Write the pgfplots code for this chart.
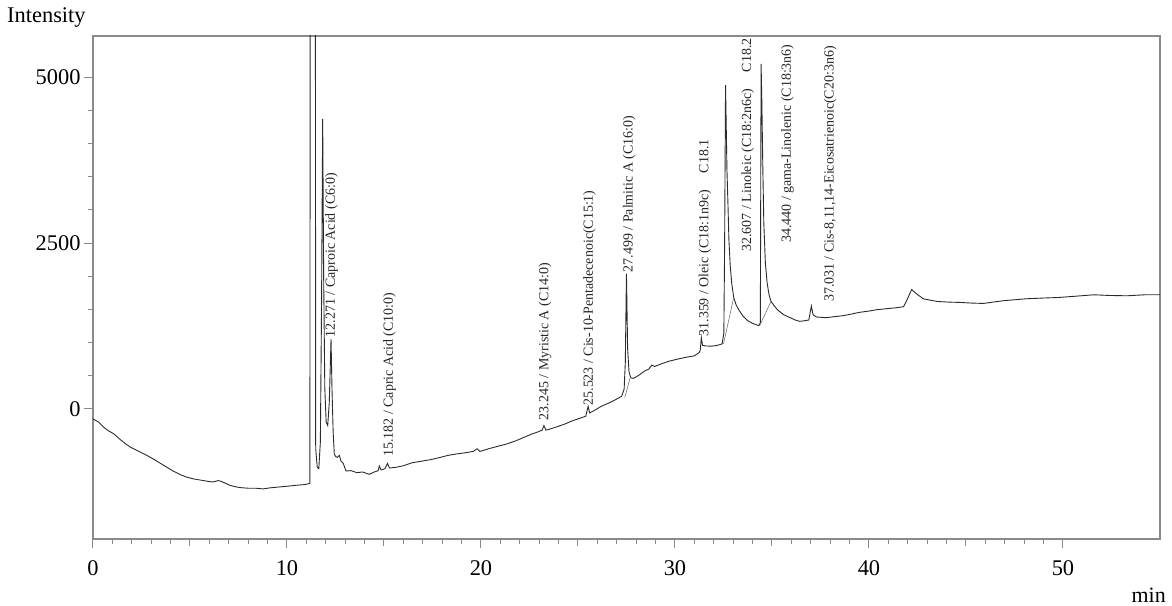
\documentclass[border=0pt]{standalone}
\usepackage{fontspec}
\setmainfont{Liberation Serif}
\usepackage{pgfplots}
\pgfplotsset{compat=1.18}
\definecolor{axgray}{HTML}{8A8A8A}
\definecolor{trace}{HTML}{2B2B2B}
\tikzset{lbl/.style={rotate=90, anchor=west, inner sep=0pt, font=\fontsize{14}{16}\selectfont, text=black!85}}
\begin{document}
\begin{tikzpicture}
\path[use as bounding box] (-93bp,-67bp) rectangle (1079bp,539bp);
\begin{axis}[
  scale only axis, width=1067bp, height=503bp,
  xmin=0, xmax=55, ymin=-1960, ymax=5620,
  axis line style={axgray, line width=1.2bp},
  tick style={axgray, line width=1bp},
  tick align=outside, tick pos=left,
  xtick={0,10,...,50}, minor x tick num=9,
  ytick={0,2500,5000}, minor y tick num=4,
  major tick length=9bp, minor tick length=5bp,
  extra x ticks={5,15,25,35,45},
  extra x tick style={major tick length=7bp, xticklabel={}},
  ticklabel style={font=\fontsize{22.5}{26}\selectfont, black},
  xticklabel style={yshift=-9bp},
  /pgf/number format/assume math mode=true,
  /pgf/number format/1000 sep={},
  clip mode=individual,
]
\addplot[trace, line width=0.9bp] table {
0 -150
0.3 -200
0.55 -275
0.8 -330
1.07 -375
1.4 -460
1.7 -530
1.92 -575
2.3 -630
2.78 -700
3.2 -770
3.64 -850
4.1 -930
4.5 -990
4.85 -1030
5.19 -1055
5.6 -1075
6.0 -1095
6.2 -1100
6.45 -1080
6.6 -1090
7.05 -1150
7.3 -1170
7.57 -1185
8.0 -1195
8.4 -1195
8.77 -1205
9.1 -1190
9.63 -1175
10.0 -1165
10.5 -1150
10.9 -1140
11.15 -1125
11.18 -1120
11.195 5800
11.33 9000
11.465 5800
11.48 -600
11.56 -880
11.64 -900
11.72 -500
11.78 1500
11.84 4370
11.89 2000
11.95 300
12.02 -200
12.1 -250
12.18 100
12.27 1050
12.32 300
12.38 -350
12.44 -685
12.52 -720
12.6 -730
12.7 -700
12.78 -785
12.9 -820
13.04 -935
13.3 -930
13.6 -960
13.9 -950
14.24 -985
14.5 -950
14.7 -930
14.76 -860
14.85 -920
15.05 -900
15.18 -820
15.28 -890
15.6 -880
15.95 -860
16.47 -810
16.9 -790
17.47 -760
17.9 -730
18.3 -700
18.7 -680
19.2 -660
19.6 -640
19.8 -600
19.95 -640
20.4 -600
20.9 -560
21.3 -530
21.8 -480
22.2 -430
22.6 -380
22.9 -350
23.15 -320
23.245 -250
23.35 -320
23.7 -290
24.3 -230
24.7 -180
25.1 -140
25.4 -110
25.523 40
25.6 -60
25.8 -30
26.2 40
26.6 90
27.0 150
27.25 190
27.38 300
27.44 700
27.499 2040
27.56 900
27.63 560
27.72 470
27.85 460
28.1 500
28.45 575
28.65 600
28.8 660
28.95 640
29.3 680
29.7 720
30.2 755
30.6 780
31.0 800
31.25 850
31.3 880
31.359 1075
31.42 960
31.55 950
31.9 945
32.2 960
32.43 980
32.52 1150
32.56 2500
32.607 4880
32.64 4300
32.68 3600
32.73 3100
32.78 2550
32.85 2150
32.93 1880
33.03 1680
33.15 1570
33.3 1490
33.5 1400
33.75 1330
34.0 1290
34.32 1255
34.40 1300
34.44 5200
34.48 4600
34.53 3600
34.58 2800
34.66 2200
34.75 1900
34.85 1720
34.95 1620
35.1 1560
35.3 1490
35.6 1420
35.9 1380
36.2 1340
36.43 1320
36.7 1330
36.9 1340
37.031 1550
37.12 1420
37.3 1385
37.8 1375
38.2 1390
38.66 1405
39.1 1430
39.5 1455
40.0 1475
40.4 1495
40.9 1510
41.4 1525
41.78 1540
41.94 1630
42.2 1800
42.45 1735
42.8 1660
43.5 1620
44.1 1610
44.7 1605
45.3 1595
45.9 1590
46.4 1610
46.9 1630
47.5 1645
48.1 1660
48.9 1670
49.8 1680
50.7 1700
51.6 1720
52.4 1710
53.3 1705
54.2 1720
55.0 1720
};
\addplot[black!55, line width=0.6bp] coordinates {(27.41,170) (27.70,480)};
\addplot[black!55, line width=0.6bp] coordinates {(32.50,980) (33.03,1680)};
\addplot[black!55, line width=0.6bp] coordinates {(34.36,1250) (34.95,1620)};
\node[lbl] at (axis cs:12.30,1080) {12.271 / Caproic Acid (C6:0)};
\node[lbl] at (axis cs:15.28,-720) {15.182 / Capric Acid (C10:0)};
\node[lbl] at (axis cs:23.30,-170) {23.245 / Myristic A (C14:0)};
\node[lbl] at (axis cs:25.60,50) {25.523 / Cis-10-Pentadecenoic(C15:1)};
\node[lbl] at (axis cs:27.65,2060) {27.499 / Palmitic A (C16:0)};
\node[lbl] at (axis cs:31.55,1090) {31.359 / Oleic (C18:1n9c)\hspace{1.2em}C18.1};
\node[lbl] at (axis cs:33.75,2370) {32.607 / Linoleic (C18:2n6c)\hspace{1.2em}C18.2};
\node[lbl] at (axis cs:35.80,2500) {34.440 / gama-Linolenic (C18:3n6)};
\node[lbl] at (axis cs:38.00,1610) {37.031 / Cis-8,11,14-Eicosatrienoic(C20:3n6)};
\node[anchor=base west, inner sep=0pt, font=\fontsize{22.5}{26}\selectfont] at (rel axis cs:-0.0806,1.026) {Intensity};
\node[anchor=base east, inner sep=0pt, font=\fontsize{22}{26}\selectfont] at (rel axis cs:1.0056,-0.127) {min};
\end{axis}
\end{tikzpicture}
\end{document}
